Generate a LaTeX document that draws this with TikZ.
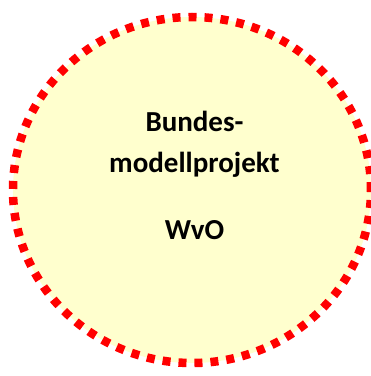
\documentclass[tikz,border=0pt]{standalone}
\usepackage{fontspec}
\setmainfont{Carlito}
\usetikzlibrary{shapes.geometric}
\definecolor{fillyellow}{RGB}{255,255,206}
\definecolor{dashred}{RGB}{255,0,0}
\tikzset{
  ring/.style={draw=dashred, line width=8.5bp, fill=fillyellow, dash pattern=on 8bp off 8bp},
  label/.style={font=\fontsize{29bp}{34bp}\selectfont\bfseries, anchor=base, inner sep=0pt}
}
\begin{document}
\begin{tikzpicture}[x=1bp,y=1bp]
\useasboundingbox (0,0) rectangle (371,376);
\node[ring, ellipse, minimum width=358bp, minimum height=346bp, inner sep=0pt] (c) at (192,186) {};
\node[label] (t1) at (194.5,376-131) {Bundes-};
\node[label] (t2) at (194.5,376-172) {modellprojekt};
\node[label] (t3) at (194.5,376-239) {WvO};
\end{tikzpicture}
\end{document}
